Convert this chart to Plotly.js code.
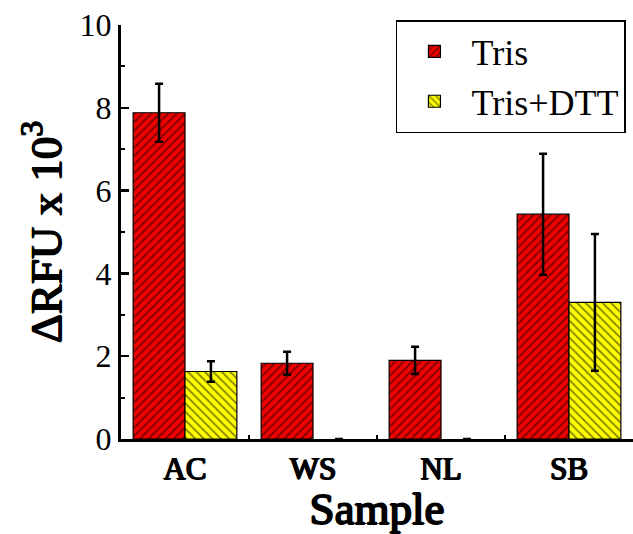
<!DOCTYPE html>
<html>
<head>
<meta charset="utf-8">
<script src="https://cdn.plot.ly/plotly-3.0.1.min.js"></script>
<style>html,body{margin:0;padding:0;background:#fff;}#chart{width:633px;height:534px;}</style>
</head>
<body>
<div id="chart"></div>
<script>
const categories = ["AC", "WS", "NL", "SB"];
const trisValues = [7.88, 1.83, 1.9, 5.43];
const trisErrors = [0.7, 0.28, 0.33, 1.46];
const dttValues = [1.63, 0, 0, 3.3];
const dttErrors = [0.25, 0, 0, 1.65];
const seriesNames = ["Tris", "Tris+DTT"];

const serif = "Times New Roman";
const boldShadow = "0.9px 0 0 #000, -0.9px 0 0 #000, 0 0.6px 0 #000, 0 -0.5px 0 #000";

const traces = [
  {
    type: "bar", name: seriesNames[0], x: categories, y: trisValues,
    marker: {color: "#ff0000", line: {color: "#000", width: 1.2},
      pattern: {shape: "/", fgcolor: "#000", bgcolor: "#ee0000", size: 6, solidity: 0.3, fillmode: "overlay"}},
    error_y: {type: "data", array: trisErrors, visible: true, color: "#000", thickness: 2.5, width: 4}
  },
  {
    type: "bar", name: seriesNames[1], x: categories, y: dttValues,
    marker: {color: "#ffff00", line: {color: "#000", width: dttValues.map(v => v > 0 ? 1.2 : 0)},
      pattern: {shape: "\\", fgcolor: "#000", bgcolor: "#ffff00", size: 6, solidity: 0.3, fillmode: "overlay"}},
    error_y: {type: "data", array: dttErrors.map((e, i) => dttValues[i] > 0 ? e : null), visible: true, color: "#000", thickness: 2.5, width: 4}
  }
];

const layout = {
  width: 633, height: 534,
  margin: {l: 121, r: 0, t: 25, b: 95},
  paper_bgcolor: "#fff", plot_bgcolor: "#fff",
  barmode: "group", bargap: 0.19, bargroupgap: 0,
  font: {family: serif, color: "#000"},
  showlegend: true,
  legend: {
    x: 0.537, y: 1.012, xanchor: "left", yanchor: "top",
    bordercolor: "#000", borderwidth: 1.5, bgcolor: "#fff",
    font: {family: serif, size: 36, color: "#000"},
    itemwidth: 64, tracegroupgap: 0
  },
  xaxis: {
    type: "category", range: [-0.5, 3.5],
    showline: true, linecolor: "#000", linewidth: 3,
    ticks: "inside", tickson: "boundaries", ticklen: 4, tickwidth: 2.5, tickcolor: "#000",
    showgrid: false, zeroline: false,
    tickfont: {family: serif, size: 31, color: "#000", shadow: boldShadow},
    title: {text: "Sample", font: {family: serif, size: 45, color: "#000", shadow: boldShadow}, standoff: 4}
  },
  yaxis: {
    range: [0, 10], tickvals: [0, 2, 4, 6, 8, 10],
    showline: true, linecolor: "#000", linewidth: 3,
    ticks: "inside", ticklen: 8, tickwidth: 2.5, tickcolor: "#000",
    minor: {ticks: "inside", ticklen: 4, tickwidth: 2, tickcolor: "#000", dtick: 1, showgrid: false},
    showgrid: false, zeroline: false,
    tickfont: {family: serif, size: 32, color: "#000"},
    title: {text: "ΔRFU x 10<sup>3</sup>", font: {family: serif, size: 45, color: "#000", shadow: boldShadow}, standoff: 4}
  }
};

Plotly.newPlot("chart", traces, layout, {displayModeBar: false, staticPlot: true});
</script>
</body>
</html>
